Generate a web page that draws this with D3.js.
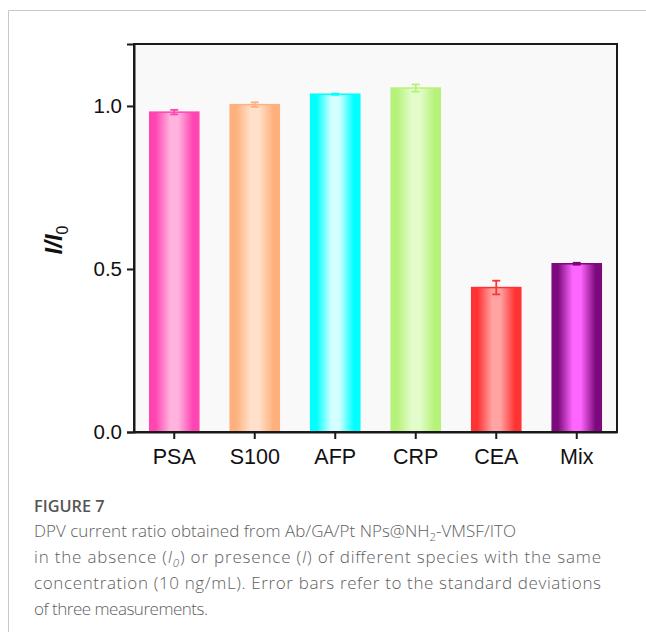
<!DOCTYPE html>
<html>
<head>
<meta charset="utf-8">
<script src="https://cdn.jsdelivr.net/npm/d3@7"></script>
<style>
  body { margin: 0; background: #fff; }
  svg { display: block; }
</style>
</head>
<body>
<div id="chart"></div>
<script>
const categories = ['PSA', 'S100', 'AFP', 'CRP', 'CEA', 'Mix']
const ratios = [0.981, 1.004, 1.036, 1.055, 0.443, 0.516]
const errors = [0.007, 0.007, 0.002, 0.011, 0.021, 0.003]
const yTicks = [0.0, 0.5, 1.0]
// edge colour, inner colour for each bar
const edgeColors = ['#ff45b2', '#ffb07c', '#00ffff', '#b6f27a', '#ff3333', '#7d0a7d']
const innerColors = ['#ffb3de', '#ffe1cb', '#d4ffff', '#e3fccc', '#ffa3a3', '#ff66ff']

const width = 646, height = 632
const margin = {top: 44, right: 29, bottom: 200, left: 134}

const svg = d3.select('#chart')
  .append('svg')
  .attr('width', width)
  .attr('height', height)
  .attr('font-family', 'Liberation Sans, Arial, sans-serif')

// light frame of the figure panel
svg.append('path')
  .attr('d', `M8.5,${height} V10.5 H${width}`)
  .attr('fill', 'none')
  .attr('stroke', '#c8c8c8')
  .attr('stroke-width', 1)

const x = d3.scaleBand()
  .domain(categories)
  .range([margin.left, width - margin.right])
  .paddingInner(0.39)
  .paddingOuter(0.195)

const y = d3.scaleLinear()
  .domain([0, 1.19])
  .range([height - margin.bottom, margin.top])

// plot background
svg.append('rect')
  .attr('x', margin.left)
  .attr('y', margin.top)
  .attr('width', width - margin.right - margin.left)
  .attr('height', height - margin.bottom - margin.top)
  .attr('fill', '#f9f9f9')

const defs = svg.append('defs')
categories.forEach((c, i) => {
  const g = defs.append('linearGradient')
    .attr('id', 'grad' + i)
    .attr('x1', '0%').attr('x2', '100%')
    .attr('y1', '0%').attr('y2', '0%')
  const stops = [
    [0, edgeColors[i]], [0.12, edgeColors[i]], [0.42, innerColors[i]],
    [0.58, innerColors[i]], [0.88, edgeColors[i]], [1, edgeColors[i]]
  ]
  stops.forEach(s => {
    g.append('stop').attr('offset', s[0]).attr('stop-color', s[1])
  })
})

const data = categories.map((c, i) => ({cat: c, v: ratios[i], e: errors[i], i: i}))

svg.append('g')
  .selectAll('rect')
  .data(data)
  .join('rect')
    .attr('x', d => x(d.cat))
    .attr('y', d => y(d.v))
    .attr('width', x.bandwidth())
    .attr('height', d => y(0) - y(d.v))
    .attr('fill', d => `url(#grad${d.i})`)
    .attr('stroke', d => edgeColors[d.i])
    .attr('stroke-width', 1.5)

// error bars
const eb = svg.append('g')
  .selectAll('g')
  .data(data)
  .join('g')
    .attr('stroke', d => edgeColors[d.i])
    .attr('stroke-width', 1.8)
eb.append('line')
  .attr('x1', d => x(d.cat) + x.bandwidth() / 2)
  .attr('x2', d => x(d.cat) + x.bandwidth() / 2)
  .attr('y1', d => y(d.v + d.e))
  .attr('y2', d => y(d.v - d.e))
eb.append('line')
  .attr('x1', d => x(d.cat) + x.bandwidth() / 2 - 4)
  .attr('x2', d => x(d.cat) + x.bandwidth() / 2 + 4)
  .attr('y1', d => y(d.v + d.e))
  .attr('y2', d => y(d.v + d.e))
eb.append('line')
  .attr('x1', d => x(d.cat) + x.bandwidth() / 2 - 4)
  .attr('x2', d => x(d.cat) + x.bandwidth() / 2 + 4)
  .attr('y1', d => y(d.v - d.e))
  .attr('y2', d => y(d.v - d.e))

// frame around plot
svg.append('rect')
  .attr('x', margin.left)
  .attr('y', margin.top)
  .attr('width', width - margin.right - margin.left)
  .attr('height', height - margin.bottom - margin.top)
  .attr('fill', 'none')
  .attr('stroke', '#1a1a1a')
  .attr('stroke-width', 2)

const yAxis = svg.append('g')
  .attr('transform', `translate(${margin.left},0)`)
  .call(d3.axisLeft(y).tickValues(yTicks).tickFormat(d3.format('.1f')).tickSize(7).tickPadding(5))
yAxis.select('.domain').attr('stroke', '#1a1a1a').attr('stroke-width', 2)
yAxis.selectAll('.tick line').attr('stroke', '#1a1a1a').attr('stroke-width', 2)
yAxis.selectAll('.tick text')
  .attr('font-size', 20.5)
  .attr('fill', '#111')
  .attr('font-family', 'Liberation Sans, Arial, sans-serif')

const xAxis = svg.append('g')
  .attr('transform', `translate(0,${height - margin.bottom})`)
  .call(d3.axisBottom(x).tickSize(7).tickPadding(10).tickSizeOuter(0))
xAxis.select('.domain').attr('stroke', '#1a1a1a').attr('stroke-width', 2)
xAxis.selectAll('.tick line').attr('stroke', '#1a1a1a').attr('stroke-width', 2)
xAxis.selectAll('.tick text')
  .attr('font-size', 21.5)
  .attr('fill', '#111')
  .attr('font-family', 'Liberation Sans, Arial, sans-serif')

// y-axis label I/I0
const yl = svg.append('text')
  .attr('transform', 'translate(62,240) rotate(-90)')
  .attr('text-anchor', 'middle')
  .attr('font-size', 24)
  .attr('font-style', 'italic')
  .attr('font-weight', 'bold')
  .attr('fill', '#111')
yl.append('tspan').text('I/I')
yl.append('tspan').text('0').attr('font-size', 16).attr('font-style', 'normal').attr('font-weight', 'normal').attr('dy', 6)

// caption
const cap = svg.append('g')
  .attr('font-family', 'Open Sans, sans-serif')
  .attr('fill', '#5e5e5e')
  .attr('font-size', 17)
  .attr('font-weight', 300)

cap.append('text')
  .attr('x', 34).attr('y', 512)
  .attr('font-weight', 600)
  .attr('font-size', 16.3)
  .attr('fill', '#555')
  .text('FIGURE 7')

const l1 = cap.append('text').attr('x', 34).attr('y', 537)
  .attr('textLength', 482).attr('lengthAdjust', 'spacing')
l1.append('tspan').text('DPV current ratio obtained from Ab/GA/Pt NPs@NH')
l1.append('tspan').text('2').attr('font-size', 11.5).attr('dy', 4)
l1.append('tspan').text('-VMSF/ITO').attr('dy', -4)

const l2 = cap.append('text').attr('x', 34).attr('y', 563)
  .attr('textLength', 567).attr('lengthAdjust', 'spacing')
l2.append('tspan').text('in the absence (')
l2.append('tspan').text('I').attr('font-style', 'italic')
l2.append('tspan').text('0').attr('font-style', 'italic').attr('font-size', 11.5).attr('dy', 4)
l2.append('tspan').text(') or presence (').attr('dy', -4)
l2.append('tspan').text('I').attr('font-style', 'italic')
l2.append('tspan').text(') of different species with the same')

cap.append('text').attr('x', 34).attr('y', 589)
  .attr('textLength', 567).attr('lengthAdjust', 'spacing')
  .text('concentration (10 ng/mL). Error bars refer to the standard deviations')
cap.append('text').attr('x', 34).attr('y', 615)
  .attr('textLength', 174).attr('lengthAdjust', 'spacing')
  .text('of three measurements.')
</script>
</body>
</html>
